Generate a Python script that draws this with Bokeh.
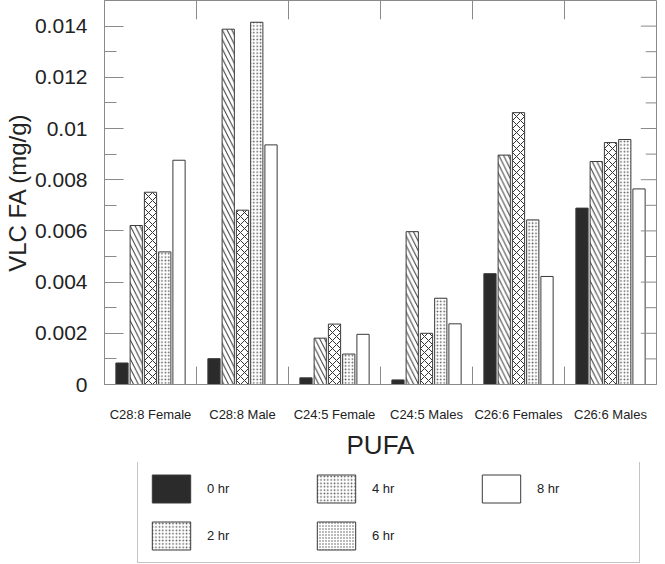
from bokeh.plotting import figure
from bokeh.layouts import column
from bokeh.models import (FactorRange, Range1d, SingleIntervalTicker,
                          NumeralTickFormatter, Legend, LegendItem, ColumnDataSource)
from bokeh.transform import dodge
from bokeh.embed import file_html
from bokeh.resources import INLINE

categories = ["C28:8 Female", "C28:8 Male", "C24:5 Female", "C24:5 Males",
              "C26:6 Females", "C26:6 Males"]
series_names = ["0 hr", "2 hr", "4 hr", "6 hr", "8 hr"]
hr0 = [0.00084, 0.00101, 0.00026, 0.00018, 0.00433, 0.00689]
hr2 = [0.00621, 0.01388, 0.00181, 0.00597, 0.00896, 0.00871]
hr4 = [0.00751, 0.00681, 0.00236, 0.00200, 0.01062, 0.00945]
hr6 = [0.00518, 0.01415, 0.00119, 0.00337, 0.00643, 0.00957]
hr8 = [0.00876, 0.00936, 0.00196, 0.00237, 0.00422, 0.00764]
y_tick_step = 0.002
y_major_ticks = [0.0, 0.002, 0.004, 0.006, 0.008, 0.010, 0.012, 0.014]
y_minor_ticks = [0.001, 0.003, 0.005, 0.007, 0.009, 0.011, 0.013]
y_top = 0.015

FONT = "Liberation Sans"
AX = "#8a8a8a"
EDGE = "#3a3a3a"
TXT = "#222222"

W = 657
FRAME_H = 387
BELOW = 75
H1 = FRAME_H + BELOW
H2 = 564 - H1
LEFT = 92

p = figure(x_range=FactorRange(*categories, range_padding=0, factor_padding=0),
           y_range=Range1d(0, y_top), width=W, height=H1,
           output_backend="svg", toolbar_location=None,
           min_border_left=LEFT, min_border_right=1, min_border_top=0,
           min_border_bottom=BELOW)
p.background_fill_color = "white"
p.border_fill_color = "white"
p.outline_line_color = AX
p.xgrid.visible = False
p.ygrid.visible = False

src = ColumnDataSource(dict(cat=categories, hr0=hr0, hr2=hr2, hr4=hr4, hr6=hr6, hr8=hr8))

styles = [
    dict(fill_color="#2b2b2b"),
    dict(fill_color="white", hatch_pattern="left_diagonal_line", hatch_scale=9.5,
         hatch_color="#333333", hatch_weight=1),
    dict(fill_color="white", hatch_pattern="diagonal_cross", hatch_scale=8,
         hatch_color="#333333", hatch_weight=1),
    dict(fill_color="white", hatch_pattern="dot", hatch_scale=3.4,
         hatch_color="#555555", hatch_weight=1),
    dict(fill_color="white"),
]
offsets = [-0.31, -0.155, 0.0, 0.155, 0.31]
cols = ["hr0", "hr2", "hr4", "hr6", "hr8"]
for col, off, st in zip(cols, offsets, styles):
    p.vbar(x=dodge("cat", off, range=p.x_range), top=col, width=0.133, source=src,
           line_color=EDGE, line_width=1, **st)

# pixel helpers for decoration lengths
py = y_top / FRAME_H
px = len(categories) / (W - LEFT - 1)

# category separator ticks at factor boundaries (bottom and top)
bounds = list(range(1, len(categories)))
n = len(bounds)
p.segment(x0=bounds, x1=bounds, y0=[0] * n, y1=[18 * py] * n, line_color=AX, line_width=1)
p.segment(x0=bounds, x1=bounds, y0=[y_top] * n, y1=[y_top - 19 * py] * n,
          line_color=AX, line_width=1)

# right-side inward ticks
xr = len(categories)
p.segment(x0=[xr - 16 * px] * len(y_major_ticks), x1=[xr] * len(y_major_ticks),
          y0=y_major_ticks, y1=y_major_ticks, line_color=AX, line_width=1)
p.segment(x0=[xr - 11 * px] * len(y_minor_ticks), x1=[xr] * len(y_minor_ticks),
          y0=y_minor_ticks, y1=y_minor_ticks, line_color=AX, line_width=1)

# x axis
xa = p.xaxis[0]
xa.major_tick_line_color = None
xa.major_tick_out = 0
xa.major_tick_in = 0
xa.axis_line_color = AX
xa.major_label_text_font = FONT
xa.major_label_text_font_size = "13px"
xa.major_label_text_color = TXT
xa.major_label_standoff = 22
xa.axis_label = "PUFA"
xa.axis_label_text_font = FONT
xa.axis_label_text_font_size = "26px"
xa.axis_label_text_font_style = "normal"
xa.axis_label_text_color = TXT
xa.axis_label_standoff = 5

# y axis
ya = p.yaxis[0]
ya.ticker = SingleIntervalTicker(interval=y_tick_step, num_minor_ticks=2)
ya.formatter = NumeralTickFormatter(format="0.[000]")
ya.axis_line_color = AX
ya.major_tick_line_color = AX
ya.minor_tick_line_color = AX
ya.major_tick_in = 19
ya.major_tick_out = 0
ya.minor_tick_in = 12
ya.minor_tick_out = 0
ya.major_label_text_font = FONT
ya.major_label_text_font_size = "21px"
ya.major_label_text_color = TXT
ya.major_label_standoff = 17
ya.axis_label = "VLC FA (mg/g)"
ya.axis_label_text_font = FONT
ya.axis_label_text_font_size = "24px"
ya.axis_label_text_font_style = "normal"
ya.axis_label_text_color = TXT
ya.axis_label_standoff = 1

# legend panel (swatches as drawn in the reference legend)
p2 = figure(width=W, height=H2, x_range=Range1d(0, 1), y_range=Range1d(0, 1),
            output_backend="svg", toolbar_location=None,
            x_axis_location=None, y_axis_location=None,
            min_border_left=LEFT, min_border_right=1, min_border_top=0, min_border_bottom=0)
p2.outline_line_color = None
p2.xgrid.visible = False
p2.ygrid.visible = False
p2.background_fill_color = "white"
p2.border_fill_color = "white"

leg_styles = [
    dict(fill_color="#2b2b2b"),
    dict(fill_color="white", hatch_pattern="dot", hatch_scale=3.4, hatch_color="#555555", hatch_weight=1),
    dict(fill_color="white", hatch_pattern="dot", hatch_scale=3.4, hatch_color="#555555", hatch_weight=1),
    dict(fill_color="white", hatch_pattern="dot", hatch_scale=3.0, hatch_color="#555555", hatch_weight=1),
    dict(fill_color="white"),
]
items = []
for name, st in zip(series_names, leg_styles):
    # tiny placeholder bar hidden under the legend's opaque background
    r = p2.vbar(x=[0.5], top=[0.5], bottom=[0.45], width=0.01,
                line_color=EDGE, line_width=1, **st)
    items.append(LegendItem(label=name, renderers=[r]))

legend = Legend(items=items, location=(33, 1), orientation="vertical", nrows=2,
                glyph_width=48, glyph_height=35, label_standoff=12, label_width=93,
                label_height=35, spacing=12, padding=9, margin=0,
                border_line_color=AX, border_line_width=1,
                label_text_font=FONT, label_text_font_size="13px",
                label_text_color=TXT, background_fill_color="white",
                background_fill_alpha=1)
p2.add_layout(legend, "center")

layout = column(p, p2, spacing=0)
open("out.html", "w").write(file_html(layout, INLINE))
